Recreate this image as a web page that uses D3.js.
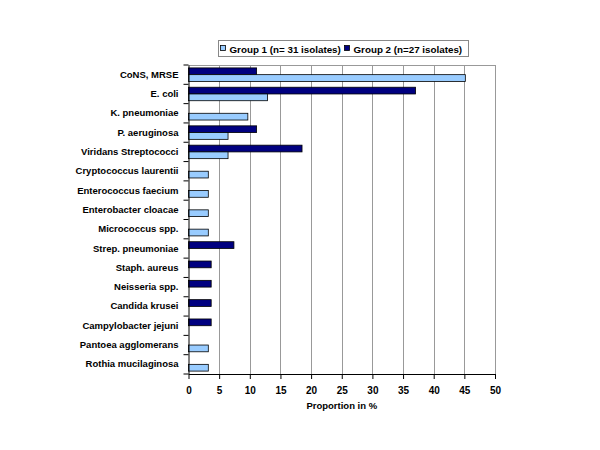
<!DOCTYPE html>
<html><head><meta charset="utf-8">
<script src="https://cdn.jsdelivr.net/npm/d3@7"></script>
<style>body{margin:0;background:#fff}svg{display:block}text{font-family:Arial,"Liberation Sans",sans-serif;font-weight:bold}</style>
</head><body>
<svg id="chart" width="600" height="450"></svg>
<script>
const categories = ["CoNS, MRSE","E. coli","K. pneumoniae","P. aeruginosa","Viridans Streptococci","Cryptococcus laurentii","Enterococcus faecium","Enterobacter cloacae","Micrococcus spp.","Strep. pneumoniae","Staph. aureus","Neisseria spp.","Candida krusei","Campylobacter jejuni","Pantoea agglomerans","Rothia mucilaginosa"];
const group1 = [45.16,12.9,9.68,6.45,6.45,3.23,3.23,3.23,3.23,0,0,0,0,0,3.23,3.23];
const group2 = [11.11,37.04,0,11.11,18.52,0,0,0,0,7.41,3.7,3.7,3.7,3.7,0,0];
const seriesNames = ["Group 1 (n= 31 isolates)","Group 2 (n=27 isolates)"];
const xTicks = [0,5,10,15,20,25,30,35,40,45,50];
const xTitle = "Proportion in %";

const svg = d3.select("#chart");
const L = 188.5, R = 495, T = 65, B = 374;
const x = d3.scaleLinear().domain([0,50]).range([L,R]);
const y = d3.scaleBand().domain(categories).range([T,B]);
const sub = d3.scaleBand().domain(["g2","g1"]).range([0,13.5]);
const colors = {g1:"#99CCFF", g2:"#000080"};

// grid
svg.append("g").selectAll("line").data(xTicks.slice(1)).join("line")
  .attr("x1",d=>Math.round(x(d))+0.5).attr("x2",d=>Math.round(x(d))+0.5)
  .attr("y1",T).attr("y2",B).attr("stroke","#999").attr("stroke-width",1);
svg.append("line").attr("x1",L).attr("x2",Math.round(R)+0.5).attr("y1",T+0.5).attr("y2",T+0.5).attr("stroke","#999");

// bars
const rows = categories.map((c,i)=>({c, g1:group1[i], g2:group2[i]}));
["g2","g1"].forEach(k=>{
  svg.append("g").selectAll("rect").data(rows.filter(r=>r[k]>0)).join("rect")
    .attr("x",L).attr("y",d=>y(d.c)+(y.bandwidth()-13.5)/2+sub(k))
    .attr("width",d=>x(d[k])-L).attr("height",sub.bandwidth())
    .attr("fill",colors[k]).attr("stroke","#000").attr("stroke-width",0.8);
});

// x axis
const xa = svg.append("g").attr("transform",`translate(0,${B})`)
  .call(d3.axisBottom(x).tickValues(xTicks).tickSize(5).tickSizeOuter(0));
xa.select(".domain").attr("stroke","#000");
xa.selectAll("line").attr("stroke","#000");
xa.selectAll("text").attr("font-size",10).attr("dy","1.2em").attr("fill","#000");

// y axis
const ya = svg.append("g").attr("transform",`translate(${L},0)`)
  .call(d3.axisLeft(y).tickSize(0).tickPadding(10));
ya.select(".domain").attr("stroke","#000");
ya.selectAll("text").attr("font-size",9.5).attr("fill","#000");
// boundary ticks
svg.append("g").selectAll("line").data(d3.range(categories.length+1)).join("line")
  .attr("x1",L-5).attr("x2",L).attr("y1",i=>T+i*y.step()).attr("y2",i=>T+i*y.step())
  .attr("stroke","#000");

// x title
svg.append("text").attr("x",(L+R)/2).attr("y",409).attr("text-anchor","middle")
  .attr("font-size",9.5).text(xTitle);

// legend
const lg = svg.append("g");
lg.append("rect").attr("x",218.5).attr("y",40.5).attr("width",250).attr("height",16)
  .attr("fill","#fff").attr("stroke","#888");
const items = [{n:seriesNames[0],c:colors.g1,x:220},{n:seriesNames[1],c:colors.g2,x:344}];
items.forEach(it=>{
  lg.append("rect").attr("x",it.x+0.5).attr("y",45.5).attr("width",5).attr("height",5)
    .attr("fill",it.c).attr("stroke","#000").attr("stroke-width",0.8);
  lg.append("text").attr("x",it.x+9.5).attr("y",52.5).attr("font-size",9.8).text(it.n);
});
</script>
</body></html>
